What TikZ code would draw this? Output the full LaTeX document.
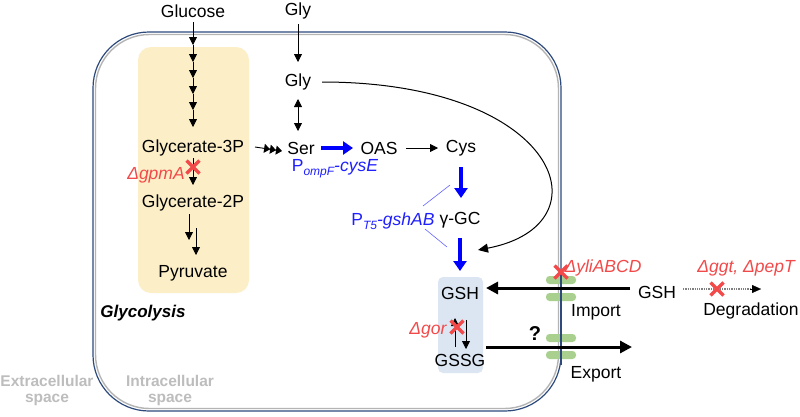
\documentclass[tikz,border=0pt]{standalone}
\usepackage{fontspec}
\setmainfont{Liberation Sans}
\usetikzlibrary{arrows.meta}
\definecolor{navy}{HTML}{2E4A7D}
\definecolor{cellgray}{HTML}{B4B4B4}
\definecolor{glyc}{HTML}{FCEFC8}
\definecolor{gshbox}{HTML}{DCE6F2}
\definecolor{pill}{HTML}{A9D08E}
\definecolor{xred}{HTML}{F24A4A}
\definecolor{pblue}{HTML}{2020FF}
\definecolor{spacegray}{HTML}{BDBDBD}
\tikzset{
 lbl/.style={font=\fontsize{17.5}{20}\selectfont, inner sep=0pt},
 gene/.style={font=\fontsize{17.5}{20}\selectfont\itshape, text=xred, inner sep=0pt},
 thinarrow/.style={-{Triangle[length=8pt,width=8pt]}, line width=0.8pt},
 bluearrow/.style={-{Triangle[length=10pt,width=13pt]}, line width=3.6pt, draw=blue},
 thickarrow/.style={-{Triangle[length=12pt,width=12pt]}, line width=3pt},
 xmark/.style={xred, line width=3.4pt},
 redx/.pic={\draw[xmark] (-6.5,-6.5)--(6.5,6.5) (6.5,-6.5)--(-6.5,6.5);},
 spacelbl/.style={font=\fontsize{15.5}{17}\selectfont\bfseries, text=spacegray, align=center, inner sep=0pt},
}
\begin{document}
\begin{tikzpicture}[x=1pt,y=-1pt]
\useasboundingbox (0,0) rectangle (800,416);
\fill[white] (0,0) rectangle (800,416);
% cell
\draw[cellgray, line width=1.4pt, rounded corners=54pt] (95.5,34.5) rectangle (558.5,408.5);
\draw[navy, line width=1.2pt, rounded corners=56pt] (93,32) rectangle (561,411);
% background boxes
\fill[glyc, rounded corners=13pt] (138,47) rectangle (249,293);
\fill[gshbox, rounded corners=5pt] (438,277) rectangle (483,373);
% transporter pills
\foreach \y in {280,297,338,355} \fill[pill, rounded corners=3.5pt] (546,\y-4) rectangle (576,\y+4);
\draw[navy, line width=1.2pt] (561,270) -- (561,365);
% text nodes
\node[lbl] (glucose) at (193,11) {Glucose};
\node[lbl] (glyout) at (298,11) {Gly};
\node[lbl] (glyin) at (298,82) {Gly};
\node[lbl] (g3p) at (193,148) {Glycerate-3P};
\node[lbl] (ser) at (301,148) {Ser};
\node[lbl] (oas) at (379,148) {OAS};
\node[lbl] (cys) at (461,148) {Cys};
\node[lbl] (g2p) at (193,203) {Glycerate-2P};
\node[lbl] (pyr) at (193,273) {Pyruvate};
\node[lbl, text=pblue] (pompf) at (335,169) {P\raisebox{-0.4ex}{\fontsize{12}{12}\selectfont\itshape ompF}\textit{-cysE}};
\node[lbl, text=pblue] (pt5) at (393,221) {P\raisebox{-0.4ex}{\fontsize{12}{12}\selectfont\itshape T5}\textit{-gshAB}};
\node[lbl] (ggc) at (460,220) {γ-GC};
\node[lbl] (gsh) at (460,293) {GSH};
\node[lbl] (gssg) at (460,360) {GSSG};
\node[lbl] (gshout) at (657,292) {GSH};
\node[lbl] (import) at (596,312) {Import};
\node[lbl] (export) at (596,374) {Export};
\node[lbl] (degr) at (751,311) {Degradation};
\node[lbl, font=\fontsize{20}{22}\selectfont\bfseries] (q) at (535,334) {?};
\node[gene] (gpma) at (156,175) {Δ\textit{gpmA}};
\node[gene] (gor) at (428,330) {Δ\textit{gor}};
\node[gene] (yli) at (603,268) {Δ\textit{yliABCD}};
\node[gene] (ggt) at (746,268) {Δ\textit{ggt}, Δ\textit{pepT}};
\node[lbl, font=\fontsize{17}{20}\selectfont\bfseries\itshape] (glycol) at (143,313) {Glycolysis};
\node[spacelbl] (extra) at (47,390) {Extracellular\\[-1pt]space};
\node[spacelbl] (intra) at (170,390) {Intracellular\\[-1pt]space};
% glycolysis chain
\foreach \a/\b in {22/45,45/62,62/78,78/94,94/110,110/127}
  \draw[thinarrow] (193,\a) -- (193,\b);
\draw[thinarrow] (193,158) -- (193,185);
\draw[thinarrow] (189,214) -- (189,240);
\draw[thinarrow] (196,228) -- (196,255);
% glycerate-3P to Ser
\draw[line width=0.9pt, -{Triangle[length=6pt,width=9pt]Triangle[length=6pt,width=9pt]Triangle[length=6pt,width=9pt]}] (255,147) -- (282,151);
% Gly
\draw[thinarrow] (298,24) -- (298,62);
\draw[line width=0.8pt, {Triangle[length=8pt,width=8pt]}-{Triangle[length=8pt,width=8pt]}] (298,99) -- (298,131);
% Ser -> OAS -> Cys
\draw[bluearrow] (321,148) -- (353,148);
\draw[thinarrow] (406,148) -- (438,148);
\draw[bluearrow] (461,167) -- (461,198);
\draw[bluearrow] (460,238) -- (460,271);
\draw[blue!60, line width=0.6pt] (423,206) -- (450,185);
\draw[blue!60, line width=0.6pt] (425,229) -- (447,247);
% curve Gly -> GSH
\draw[line width=1pt, -{Triangle[length=10pt,width=9pt]}] (322,82) .. controls (560,82) and (610,225) .. (478,250);
% GSH <-> GSSG
\draw[thinarrow] (455,347) -- (455,318);
\draw[thinarrow] (466,320) -- (466,349);
% import/export
\draw[thickarrow] (630,288) -- (486,288);
\draw[thickarrow] (486,347) -- (632,347);
% degradation
\draw[densely dotted, gray, line width=1.3pt] (683,289) -- (752,289);
\draw[-{Triangle[length=9pt,width=8pt]}, line width=0.1pt] (750,289) -- (761,289);
% red X marks
\pic at (193,167) {redx};
\pic at (457,327) {redx};
\pic at (561,272) {redx};
\pic at (717,289) {redx};
\end{tikzpicture}
\end{document}
